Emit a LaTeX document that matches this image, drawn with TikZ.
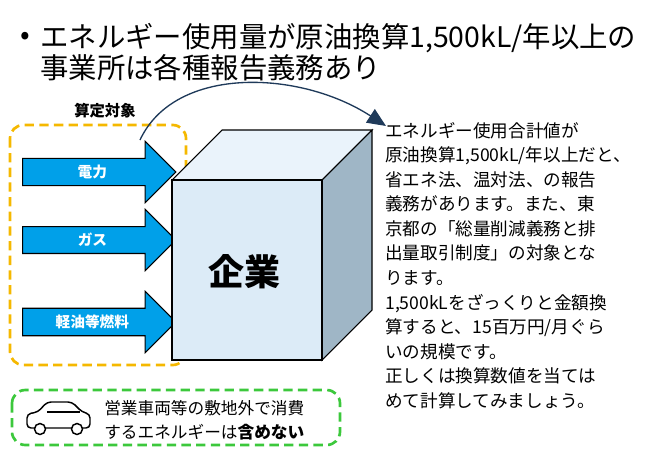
\documentclass[tikz,border=0pt]{standalone}
\usepackage{fontspec}
\setmainfont{Noto Sans CJK JP}
\usetikzlibrary{shapes.arrows,arrows.meta}
\definecolor{arrblue}{HTML}{00A0E9}
\definecolor{frontc}{HTML}{DCEBF7}
\definecolor{topc}{HTML}{EAF3FB}
\definecolor{sidec}{HTML}{9FB6C6}
\definecolor{orng}{HTML}{F5B800}
\definecolor{grn}{HTML}{3CC83C}
\definecolor{navy}{HTML}{1F3A5A}
\tikzset{
 inarrow/.style={single arrow, draw=black, fill=arrblue, line width=0.8pt, minimum height=115pt, minimum width=46pt, single arrow head extend=7pt, single arrow tip angle=90, inner sep=0pt, font=\bfseries\fontsize{11}{12}\selectfont, text=white, anchor=west},
 body/.style={font=\fontsize{13.2}{18.4}\selectfont, anchor=north west, align=left, inner sep=0pt},
}
\begin{document}
\begin{tikzpicture}[x=0.75pt,y=-0.75pt]
\useasboundingbox (0,0) rectangle (670,461);
% title
\node[anchor=west,inner sep=0pt,font=\fontsize{21.3}{24}\selectfont] (bul) at (20,38) {•};
\node[anchor=west,inner sep=0pt,font=\fontsize{21.3}{24}\selectfont] (t1) at (40,38) {エネルギー使用量が原油換算1,500kL/年以上の};
\node[anchor=west,inner sep=0pt,font=\fontsize{21.3}{24}\selectfont] (t2) at (40,68) {事業所は各種報告義務あり};
\node[anchor=west,inner sep=0pt,font=\bfseries\fontsize{11.5}{13}\selectfont] (sl) at (74,111) {算定対象};
% orange box
\draw[orng, dashed, line width=2pt, dash pattern=on 7pt off 4pt, rounded corners=10pt] (10,125) rectangle (186,365);
% arrows
\node[inarrow] (a1) at (22,172) {電力\hspace{14pt}};
\node[inarrow] (a2) at (22,240) {ガス\hspace{14pt}};
\node[inarrow] (a3) at (22,322) {軽油等燃料\hspace{10pt}};
% cube
\draw[line width=0.8pt, fill=topc] (172,180) -- (222,130) -- (372,130) -- (322,180) -- cycle;
\draw[line width=0.8pt, fill=sidec] (322,180) -- (372,130) -- (372,310) -- (322,360) -- cycle;
\draw[line width=0.8pt, fill=frontc] (172,180) rectangle (322,360);
\node[font=\bfseries\fontsize{27}{30}\selectfont] (co) at (244,272) {企業};
% curved arrow
\coordinate (cs) at (140,140);
\coordinate (ce) at (386,126);
\draw[line width=1pt, -{Triangle[length=14pt,width=12pt]}, navy] (cs) .. controls (175,65) and (300,70) .. (ce);
% right text
\node[body] (rt) at (385,122) {エネルギー使用合計値が\\原油換算1,500kL/年以上だと、\\省エネ法、温対法、の報告\\義務があります。また、東\\京都の「総量削減義務と排\\出量取引制度」の対象とな\\ります。\\1,500kLをざっくりと金額換\\算すると、15百万円/月ぐら\\いの規模です。\\正しくは換算数値を当ては\\めて計算してみましょう。};
% green box
\draw[grn, dashed, line width=2pt, dash pattern=on 7pt off 4pt, rounded corners=10pt] (12,390) rectangle (340,445);
% car
\draw[line width=1.1pt, rounded corners=3pt] (27,428) -- (27,414) -- (38,412) -- (47,402) -- (72,402) -- (82,412) -- (90,414) -- (90,428) -- cycle;
\draw[line width=1.1pt] (47,412) -- (80,412);
\draw[line width=1.1pt, fill=white] (40,429) circle (5.5);
\draw[line width=1.1pt, fill=white] (77,429) circle (5.5);
\node[anchor=west,inner sep=0pt,font=\fontsize{12.5}{14}\selectfont] (g1) at (104,408) {営業車両等の敷地外で消費};
\node[anchor=west,inner sep=0pt,font=\fontsize{12.5}{14}\selectfont] (g2) at (104,432) {するエネルギーは\textbf{含めない}};
\end{tikzpicture}
\end{document}
